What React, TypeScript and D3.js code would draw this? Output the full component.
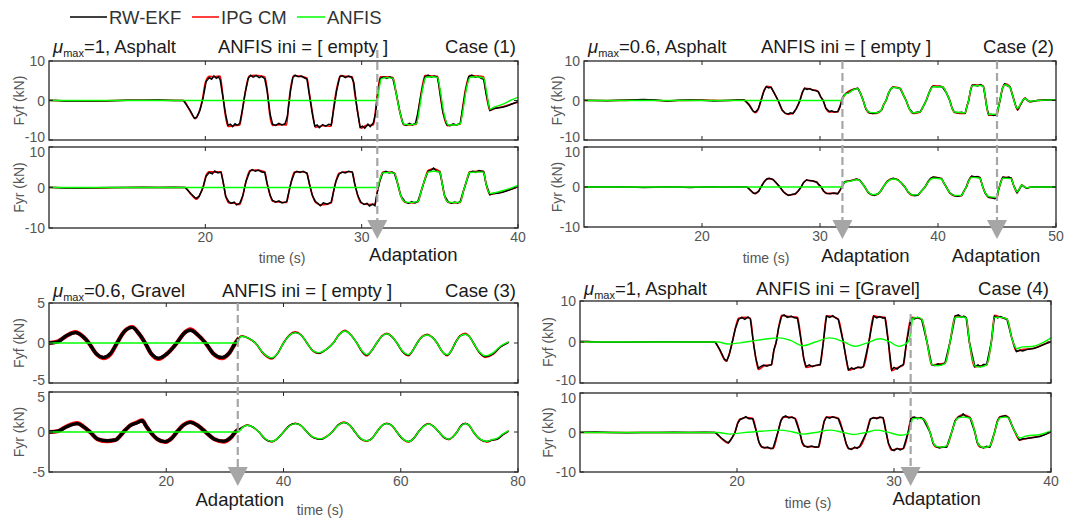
import React from "react";
import * as d3 from "d3";

type P = [number, number];

// ---------------- legend / titles ----------------
const legendNames = ["RW-EKF", "IPG CM", "ANFIS"];
const legendColors = ["#000000", "#ff0000", "#00ff00"];
const muValues = ["1", "0.6", "0.6", "1"];
const surfaces = ["Asphalt", "Asphalt", "Gravel", "Asphalt"];
const iniLabels = ["ANFIS ini = [ empty ]", "ANFIS ini = [ empty ]", "ANFIS ini = [ empty ]", "ANFIS ini = [Gravel]"];
const caseLabels = ["Case (1)", "Case (2)", "Case (3)", "Case (4)"];
const adaptTimes = [[31.0], [31.9, 45.0], [32.2], [31.06]];
const xTickValues = [[20, 30, 40], [20, 30, 40, 50], [20, 40, 60, 80], [20, 30, 40]];
const xDomains: [number, number][] = [[10, 40], [10, 50], [0, 80], [10, 40]];
const yLimits = [10, 10, 5, 10];

// ---------------- Case 1 ----------------
const c1FyfIpg: P[] = [[10,0],[11,-0.05],[13,-0.1],[15,0.05],[17,0.05],[18.6,0],[19.0,-2.5],[19.35,-4.6],[19.6,-3],[19.8,0],[20.0,4.5],[20.25,6.1],[20.6,6.0],[20.95,6.2],[21.1,2],[21.25,-3],[21.45,-6.6],[21.8,-6.4],[22.2,-6.2],[22.35,-3],[22.55,2],[22.8,6.2],[23.2,6.4],[23.8,6.0],[23.95,3],[24.1,-3],[24.3,-6.3],[24.8,-6.1],[25.2,-6.2],[25.3,-2],[25.45,3],[25.65,6.3],[26.1,6.1],[26.5,5.7],[26.65,2],[26.85,-3],[27.05,-6.8],[27.5,-6.4],[28.05,-6.5],[28.2,-2],[28.4,3],[28.65,6.3],[29.0,6.1],[29.4,6.0],[29.55,2],[29.75,-3],[29.95,-7.0],[30.3,-6.3],[30.75,-6.2],[30.9,-2],[31.05,3],[31.2,6.0],[31.6,6.0],[32.0,5.8],[32.2,2],[32.45,-3],[32.7,-6.2],[33.1,-6.2],[33.5,-6.0],[33.65,-2],[33.85,3],[34.05,6.3],[34.5,6.2],[34.85,6.1],[35.0,2],[35.2,-3],[35.5,-6.4],[35.9,-6.2],[36.3,-6.0],[36.45,-2],[36.65,3],[36.9,6.3],[37.3,6.2],[37.8,6.0],[37.95,2],[38.2,-2.5],[38.5,-2.0],[39,-1.6],[39.5,-1.0],[40,-0.4]];
const c1FyfEkf: P[] = [[10,0.05],[10.5,0],[11,-0.1],[12,-0.1],[13,-0.15],[14,-0.05],[15,0.05],[16,0.05],[17,0.1],[18,0],[18.6,0],[19.0,-2.3],[19.3,-4.5],[19.45,-4.2],[19.65,-2.5],[19.85,0.5],[20.05,4.8],[20.25,5.8],[20.4,5.4],[20.55,6.2],[20.7,5.6],[20.85,6.0],[20.95,5.2],[21.1,1.5],[21.3,-3.5],[21.45,-6.3],[21.6,-6.0],[21.75,-6.6],[21.9,-5.9],[22.05,-6.3],[22.2,-5.8],[22.35,-2.8],[22.55,2],[22.75,5.6],[22.9,6.4],[23.05,5.9],[23.25,6.3],[23.45,5.8],[23.6,6.1],[23.8,5.5],[23.95,2.5],[24.15,-3.5],[24.3,-6.0],[24.5,-6.3],[24.7,-5.8],[24.9,-6.2],[25.1,-5.9],[25.25,-4],[25.45,2.5],[25.6,5.8],[25.75,6.4],[25.95,6.0],[26.15,6.2],[26.35,5.7],[26.5,5.4],[26.65,1.5],[26.85,-3.5],[27.0,-6.5],[27.15,-6.2],[27.3,-6.9],[27.5,-6.1],[27.7,-6.5],[27.9,-6.0],[28.05,-6.2],[28.2,-2.5],[28.4,2.5],[28.6,6.0],[28.75,6.3],[28.95,5.8],[29.15,6.2],[29.35,5.9],[29.5,4.5],[29.7,-2],[29.9,-6.8],[30.05,-6.5],[30.2,-7.0],[30.4,-6.0],[30.55,-6.6],[30.75,-5.6],[30.9,-3],[31.05,2.5],[31.2,5.6],[31.4,6.0],[31.6,5.6],[31.8,6.0],[32.0,5.5],[32.2,2],[32.45,-3],[32.65,-5.9],[32.85,-6.3],[33.05,-5.8],[33.25,-6.2],[33.45,-5.7],[33.6,-3],[33.85,2.5],[34.05,6.0],[34.25,6.4],[34.45,5.9],[34.65,6.2],[34.85,5.8],[35.0,2.5],[35.2,-3],[35.45,-6.1],[35.65,-6.4],[35.85,-5.9],[36.05,-6.2],[36.3,-5.8],[36.45,-2.5],[36.65,2.5],[36.85,6.0],[37.05,6.4],[37.25,5.9],[37.45,6.1],[37.65,5.6],[37.8,5.4],[37.95,2],[38.2,-2.5],[38.4,-2.1],[38.7,-1.9],[39.0,-1.7],[39.3,-1.4],[39.6,-0.9],[40,-0.3]];
const c1FyfAnfis: P[] = [[10,0],[31.0,0],[31.1,2.5],[31.25,5.5],[31.6,5.8],[32.0,5.6],[32.2,2],[32.45,-3],[32.7,-6.0],[33.1,-6.1],[33.5,-5.9],[33.7,-2],[33.9,3],[34.1,5.9],[34.5,6.0],[34.85,5.8],[35.05,2],[35.25,-3],[35.55,-6.2],[35.9,-6.2],[36.3,-5.9],[36.5,-2],[36.7,3],[36.95,5.9],[37.3,6.0],[37.8,5.7],[38.0,2],[38.2,-2.2],[38.5,-1.6],[39,-1.0],[39.5,0],[40,0.8]];
const c1FyrIpg: P[] = [[10,0],[11,-0.05],[13,-0.1],[15,0],[17,0],[18.7,0],[19.1,-1.8],[19.45,-2.9],[19.65,-1.8],[19.85,0],[20.05,3],[20.25,3.9],[20.6,3.8],[21.0,3.9],[21.15,1],[21.3,-2],[21.5,-3.8],[21.85,-3.9],[22.2,-4.2],[22.4,-2],[22.6,1.5],[22.85,4.2],[23.3,4.3],[23.8,3.9],[23.95,1],[24.15,-2],[24.3,-3.4],[24.8,-3.6],[25.2,-3.7],[25.35,-1],[25.5,1.5],[25.7,3.8],[26.1,3.9],[26.5,3.6],[26.65,1],[26.85,-2],[27.05,-3.7],[27.4,-4.3],[28.05,-3.8],[28.2,-1],[28.35,1.5],[28.55,3.5],[29.0,3.9],[29.4,3.9],[29.55,1],[29.75,-2],[29.95,-3.8],[30.4,-4.2],[30.85,-4.1],[31.0,-1],[31.15,1.5],[31.35,3.8],[31.7,3.8],[32.1,3.6],[32.3,1],[32.5,-2],[32.8,-3.7],[33.2,-3.8],[33.6,-3.6],[33.8,-1],[34.0,1.5],[34.25,4.2],[34.6,4.6],[35.0,4.0],[35.15,1],[35.3,-2],[35.55,-3.7],[35.9,-3.8],[36.3,-3.7],[36.5,-1],[36.7,1.5],[36.9,3.9],[37.3,4.0],[37.8,4.0],[37.95,1],[38.2,-1.7],[38.6,-1.4],[39,-1.1],[39.5,-0.5],[40,0.2]];
const c1FyrEkf: P[] = [[10,0.05],[11,-0.1],[12,-0.1],[13,-0.05],[14,0],[15,0],[16,0.05],[17,0],[18,0.05],[18.7,0],[19.1,-1.6],[19.4,-2.7],[19.6,-2.2],[19.85,0],[20.05,2.8],[20.25,3.7],[20.45,3.4],[20.6,4.1],[20.8,3.6],[21.0,3.8],[21.15,1.2],[21.3,-2.2],[21.5,-3.5],[21.65,-3.9],[21.85,-3.6],[22.0,-4.3],[22.2,-3.9],[22.4,-2],[22.6,1.5],[22.85,4.0],[23.0,4.4],[23.2,4.0],[23.4,4.3],[23.6,3.8],[23.8,3.7],[23.95,1],[24.15,-2],[24.3,-3.2],[24.5,-3.6],[24.7,-3.3],[24.9,-3.8],[25.2,-3.5],[25.35,-1],[25.5,1.5],[25.7,3.6],[25.85,4.0],[26.05,3.7],[26.25,4.0],[26.5,3.5],[26.65,1],[26.85,-2],[27.05,-3.5],[27.2,-3.9],[27.35,-4.5],[27.55,-3.8],[27.8,-4.1],[28.05,-3.6],[28.2,-1],[28.35,1.5],[28.55,3.3],[28.75,3.8],[28.95,3.6],[29.15,4.0],[29.4,3.8],[29.55,1],[29.75,-2],[29.95,-3.6],[30.15,-4.2],[30.35,-3.9],[30.5,-4.6],[30.7,-4.1],[30.85,-4.5],[31.0,-1.2],[31.15,1.5],[31.35,3.6],[31.55,4.0],[31.75,3.6],[31.95,3.8],[32.1,3.4],[32.3,1],[32.5,-2],[32.8,-3.6],[33.0,-3.9],[33.2,-3.5],[33.4,-3.8],[33.6,-3.4],[33.8,-1],[34.0,1.5],[34.25,4.0],[34.45,4.3],[34.6,4.8],[34.8,4.0],[35.0,3.8],[35.15,1],[35.3,-2],[35.55,-3.6],[35.75,-3.9],[35.95,-3.6],[36.15,-3.8],[36.3,-3.5],[36.5,-1],[36.7,1.5],[36.9,3.7],[37.1,4.0],[37.3,3.7],[37.5,4.2],[37.8,3.9],[37.95,1],[38.2,-1.8],[38.4,-1.5],[38.7,-1.4],[39.0,-1.2],[39.3,-0.8],[39.6,-0.4],[40,0.2]];
const c1FyrAnfis: P[] = [[10,0],[31.0,0],[31.15,1.8],[31.35,3.6],[31.7,3.7],[32.1,3.5],[32.3,1],[32.5,-2],[32.8,-3.6],[33.2,-3.7],[33.6,-3.5],[33.8,-1],[34.0,1.5],[34.25,3.8],[34.6,4.0],[35.0,3.8],[35.15,1],[35.3,-2],[35.55,-3.6],[35.9,-3.7],[36.3,-3.6],[36.5,-1],[36.7,1.5],[36.9,3.7],[37.3,3.8],[37.8,3.8],[37.95,1],[38.2,-1.5],[38.6,-1.2],[39,-0.8],[39.5,-0.2],[40,0.5]];

// ---------------- Case 2 ----------------
const c2FyfIpg: P[] = [[10,0],[12,0],[14,0.1],[15,0.2],[16,0.1],[17,-0.1],[18,0],[20,0.1],[22,0],[23.5,0.1],[24.0,-1],[24.5,-3.1],[24.8,-2],[25.0,0],[25.25,2.5],[25.5,3.6],[25.8,3.4],[26.1,2],[26.45,0],[26.8,-2.5],[27.3,-3.5],[27.7,-3.3],[28.0,-2],[28.3,0],[28.5,2],[28.7,3.1],[29.4,2.7],[29.85,2.3],[30.05,1],[30.27,0],[30.5,-2],[30.8,-2.9],[31.5,-2.9],[31.7,-1.5],[31.85,0],[32.2,1.8],[32.7,2.7],[33.2,3.1],[33.4,2],[33.66,0],[33.9,-2.2],[34.2,-3.2],[34.8,-3.3],[35.2,-2.5],[35.4,-1],[35.6,0],[35.8,1.8],[36.2,3.4],[36.8,3.1],[37.05,1.5],[37.3,0],[37.55,-2],[37.9,-3.3],[38.5,-2.9],[38.75,-1.5],[39.0,0],[39.25,2],[39.6,3.7],[40.4,3.5],[40.7,2],[41.0,0],[41.2,-2],[41.4,-3.0],[42.3,-3.3],[42.45,-1.5],[42.6,0],[42.75,2.5],[42.9,3.9],[43.6,3.9],[43.85,3.6],[44.0,1],[44.15,-2],[44.3,-3.7],[45.0,-3.7],[45.1,-2],[45.25,0],[45.45,3],[45.7,4.2],[46.1,3.5],[46.35,1],[46.6,-1.5],[46.75,-2.4],[47.0,-1],[47.25,0.3],[47.4,0.6],[47.6,0],[47.8,-0.3],[48.4,0],[49,0.1],[50,0.15]];
const c2FyfEkf: P[] = [[10,0.05],[11,0],[12,-0.05],[13,0.05],[14,0.15],[15,0.25],[16,0.1],[17,-0.15],[18,0.05],[19,0.1],[20,0.05],[21,-0.1],[22,0],[23,0.1],[23.6,0.15],[24.0,-1.2],[24.3,-2.6],[24.5,-3.0],[24.75,-2.2],[25.0,0],[25.25,2.4],[25.45,3.5],[25.65,3.2],[25.85,3.4],[26.1,2.0],[26.45,0],[26.8,-2.4],[27.05,-3.2],[27.3,-3.4],[27.5,-3.1],[27.7,-3.3],[28.0,-2],[28.3,0],[28.5,2],[28.7,3.1],[28.9,2.8],[29.1,3.0],[29.4,2.6],[29.65,2.5],[29.85,2.2],[30.05,1],[30.27,0],[30.5,-2],[30.8,-2.8],[31.0,-2.6],[31.2,-2.9],[31.5,-2.8],[31.7,-1.5],[31.85,0],[32.0,1.2],[32.2,1.8],[32.45,2.0],[32.7,2.6],[32.95,2.9],[33.2,3.1],[33.4,2],[33.66,0],[33.9,-2.2],[34.2,-3.1],[34.5,-3.3],[34.8,-3.1],[35.05,-2.8],[35.25,-2.3],[35.4,-1],[35.6,0],[35.8,1.8],[36.0,2.9],[36.2,3.4],[36.5,3.2],[36.8,3.0],[37.05,1.5],[37.3,0],[37.55,-2],[37.9,-3.2],[38.2,-3.0],[38.5,-2.8],[38.75,-1.5],[39.0,0],[39.25,2],[39.45,3.3],[39.6,3.6],[39.9,3.5],[40.2,3.6],[40.4,3.3],[40.7,2],[41.0,0],[41.2,-2],[41.4,-3.0],[41.7,-3.1],[42.0,-3.0],[42.3,-3.2],[42.45,-1.5],[42.6,0],[42.75,2.5],[42.9,3.8],[43.1,3.9],[43.35,3.7],[43.6,4.0],[43.85,3.5],[44.0,1],[44.15,-2],[44.3,-3.6],[44.5,-3.5],[44.7,-3.8],[45.0,-3.5],[45.1,-2],[45.25,0],[45.45,3],[45.65,4.2],[45.85,3.8],[46.1,3.4],[46.35,1],[46.6,-1.5],[46.75,-2.3],[47.0,-1],[47.25,0.3],[47.4,0.6],[47.6,0],[47.8,-0.3],[48.1,-0.2],[48.4,0],[49,0.1],[50,0.15]];
const c2FyfAnfis: P[] = [[10,0],[31.85,0],[32.0,1.0],[32.2,1.7],[32.45,1.9],[32.7,2.5],[33.2,3.0],[33.4,2],[33.66,0],[33.9,-2.1],[34.2,-3.0],[34.8,-3.1],[35.2,-2.4],[35.4,-1],[35.6,0],[35.8,1.8],[36.2,3.3],[36.8,3.0],[37.05,1.5],[37.3,0],[37.55,-2],[37.9,-3.1],[38.5,-2.8],[38.75,-1.5],[39.0,0],[39.25,2],[39.6,3.5],[40.4,3.4],[40.7,2],[41.0,0],[41.2,-2],[41.4,-2.9],[42.3,-3.1],[42.45,-1.5],[42.6,0],[42.75,2.5],[42.9,3.7],[43.6,3.8],[43.85,3.4],[44.0,1],[44.15,-2],[44.3,-3.5],[45.0,-3.4],[45.1,-2],[45.25,0],[45.45,3],[45.7,4.0],[46.1,3.3],[46.35,1],[46.6,-1.5],[46.75,-2.0],[47.0,-0.8],[47.25,0.3],[47.4,0.5],[47.6,0],[47.8,-0.2],[48.4,0],[49,0.1],[50,0.15]];
const c2FyrIpg: P[] = [[10,0],[13,0],[15,-0.05],[17,0.05],[19,-0.05],[21,0],[23,0.05],[23.8,0],[24.1,-0.8],[24.5,-1.7],[24.8,-1.0],[25.0,0],[25.3,1.5],[25.6,2.1],[26.0,1.9],[26.3,1.0],[26.6,0],[26.9,-1.2],[27.3,-2.0],[27.9,-1.8],[28.15,-1],[28.4,0],[28.6,1.1],[28.86,1.7],[29.7,1.3],[29.9,0.6],[30.1,0],[30.3,-1],[30.55,-1.6],[31.5,-1.6],[31.7,-0.8],[31.85,0],[32.1,1.3],[32.5,1.5],[33.1,1.9],[33.4,1.6],[33.6,0.8],[33.8,0],[34.1,-1.4],[34.5,-2.0],[34.9,-1.8],[35.15,-1],[35.36,0],[35.7,1.4],[36.2,2.1],[36.6,1.8],[36.9,1.0],[37.2,0],[37.45,-1.2],[37.8,-2.1],[38.3,-2.0],[38.6,-1],[38.9,0],[39.2,1.5],[39.6,2.4],[40.3,2.1],[40.5,1],[40.7,0],[41.0,-1.5],[41.4,-2.2],[42.0,-2.2],[42.2,-1],[42.4,0],[42.6,1.6],[42.85,2.6],[43.55,2.4],[43.7,1],[43.8,0],[44.0,-1.5],[44.3,-2.6],[45.0,-2.8],[45.1,-1],[45.2,0],[45.35,1.5],[45.5,2.4],[46.2,2.3],[46.4,0.5],[46.7,-1.4],[46.9,-0.5],[47.1,0.5],[47.3,0.1],[47.5,-0.3],[47.9,0],[50,0]];
const c2FyrEkf: P[] = [[10,0],[11,0.05],[12,0],[13,0.05],[14,0],[15,-0.1],[16,-0.05],[17,0.05],[18,0],[19,-0.1],[20,0],[21,0.05],[22,-0.05],[23,0.05],[23.8,0],[24.1,-0.8],[24.35,-1.5],[24.5,-1.6],[24.8,-1.1],[25.0,0],[25.3,1.4],[25.5,2.0],[25.7,2.2],[26.0,1.9],[26.3,1.0],[26.6,0],[26.9,-1.2],[27.15,-1.8],[27.35,-2.1],[27.6,-1.9],[27.9,-1.7],[28.15,-1],[28.4,0],[28.6,1.1],[28.86,1.8],[29.1,1.6],[29.4,1.5],[29.7,1.2],[29.9,0.6],[30.1,0],[30.3,-1],[30.55,-1.6],[30.85,-1.7],[31.15,-1.5],[31.5,-1.7],[31.7,-0.8],[31.85,0],[32.1,1.3],[32.5,1.5],[32.8,1.7],[33.1,2.0],[33.4,1.6],[33.6,0.8],[33.8,0],[34.1,-1.4],[34.35,-1.9],[34.6,-2.1],[34.9,-1.7],[35.15,-1],[35.36,0],[35.7,1.4],[35.95,1.9],[36.2,2.2],[36.6,1.8],[36.9,1.0],[37.2,0],[37.45,-1.2],[37.8,-2.0],[38.05,-2.2],[38.3,-2.0],[38.6,-1],[38.9,0],[39.2,1.5],[39.4,2.2],[39.6,2.5],[39.95,2.3],[40.3,2.1],[40.5,1],[40.7,0],[41.0,-1.5],[41.4,-2.2],[41.7,-2.3],[42.0,-2.1],[42.2,-1],[42.4,0],[42.6,1.6],[42.85,2.7],[43.1,2.5],[43.35,2.6],[43.55,2.3],[43.7,1],[43.8,0],[44.0,-1.5],[44.3,-2.6],[44.6,-2.7],[44.8,-2.9],[45.0,-2.7],[45.1,-1],[45.2,0],[45.35,1.5],[45.5,2.5],[45.8,2.3],[46.0,2.5],[46.2,2.2],[46.4,0.5],[46.7,-1.4],[46.9,-0.5],[47.1,0.5],[47.3,0.1],[47.5,-0.3],[47.9,0],[48.5,0.05],[50,0]];
const c2FyrAnfis: P[] = [[10,0],[31.85,0],[32.1,1.2],[32.5,1.4],[33.1,1.8],[33.4,1.5],[33.6,0.8],[33.8,0],[34.1,-1.3],[34.5,-1.9],[34.9,-1.7],[35.15,-1],[35.36,0],[35.7,1.3],[36.2,2.0],[36.6,1.7],[36.9,1.0],[37.2,0],[37.45,-1.1],[37.8,-2.0],[38.3,-1.9],[38.6,-1],[38.9,0],[39.2,1.4],[39.6,2.2],[40.3,2.0],[40.5,1],[40.7,0],[41.0,-1.4],[41.4,-2.1],[42.0,-2.1],[42.2,-1],[42.4,0],[42.6,1.5],[42.85,2.4],[43.55,2.2],[43.7,1],[43.8,0],[44.0,-1.4],[44.3,-2.4],[45.0,-2.6],[45.1,-1],[45.2,0],[45.35,1.4],[45.5,2.2],[46.2,2.1],[46.4,0.5],[46.7,-1.2],[46.9,-0.4],[47.1,0.5],[47.3,0.1],[47.5,-0.2],[47.9,0],[50,0]];

// ---------------- Case 3 ----------------
const c3FyfIpg: P[] = [[0,0],[1.5,0.2],[3,0.9],[4.5,1.35],[5.8,0.8],[6.8,0],[8,-1.3],[9.3,-1.9],[10.5,-1.4],[11.6,0],[12.8,1.4],[14.2,2.0],[15.3,1.2],[16.4,0],[17.5,-1.4],[18.7,-2.0],[20.2,-1.3],[21.8,0],[23,1.2],[24.1,1.7],[25.4,1.0],[26.7,0],[28,-1.3],[29.5,-1.9],[30.8,-1.2],[31.8,0],[32.9,0.9],[34,0.6],[35.2,0],[36.6,-1.4],[38,-2.0],[39,-1.3],[40,0],[41,1.0],[42,1.4],[43,1.0],[44,0],[45,-1.0],[46,-1.3],[47.3,-0.8],[48.5,0],[49.5,1.1],[50.5,1.6],[51.5,1.0],[52.5,0],[53.4,-1.1],[54.2,-1.6],[55,-1.0],[55.9,0],[56.8,0.9],[57.6,1.2],[58.5,0.8],[59.35,0],[60.3,-1.1],[61.3,-1.6],[62,-1.0],[62.8,0],[63.6,0.8],[64.5,1.1],[65.4,0.7],[66.2,0],[67,-1.0],[67.9,-1.6],[68.6,-1.0],[69.3,0],[70.1,0.9],[71,1.2],[71.7,0.8],[72.4,0],[73.4,-1.2],[74.4,-1.8],[75.8,-1.4],[77,-0.5],[78.4,0.1]];
const c3FyfEkf: P[] = [[0,0],[1.5,0.15],[3,0.95],[4.5,1.3],[5.8,0.8],[6.8,0],[8,-1.3],[9.3,-1.8],[10.5,-1.3],[11.6,0],[12.8,1.4],[14.2,1.95],[15.3,1.2],[16.4,0],[17.5,-1.4],[18.7,-1.9],[20.2,-1.3],[21.8,0],[23,1.2],[24.1,1.6],[25.4,1.0],[26.7,0],[28,-1.3],[29.5,-1.8],[30.8,-1.2],[31.8,0],[32.9,0.85],[34,0.6],[35.2,0],[36.6,-1.3],[38,-1.9],[39,-1.3],[40,0],[41,0.95],[42,1.3],[43,1.0],[44,0],[45,-0.95],[46,-1.25],[47.3,-0.8],[48.5,0],[49.5,1.05],[50.5,1.5],[51.5,1.0],[52.5,0],[53.4,-1.05],[54.2,-1.5],[55,-1.0],[55.9,0],[56.8,0.85],[57.6,1.15],[58.5,0.8],[59.35,0],[60.3,-1.05],[61.3,-1.5],[62,-1.0],[62.8,0],[63.6,0.75],[64.5,1.0],[65.4,0.7],[66.2,0],[67,-1.0],[67.9,-1.5],[68.6,-1.0],[69.3,0],[70.1,0.85],[71,1.1],[71.7,0.8],[72.4,0],[73.4,-1.15],[74.4,-1.7],[75.8,-1.3],[77,-0.5],[78.4,0.1]];
const c3FyfAnfis: P[] = [[0,0],[32.2,0],[32.5,0.6],[32.9,0.85],[34,0.6],[35.2,0],[36.6,-1.3],[38,-1.85],[39,-1.3],[40,0],[41,0.95],[42,1.3],[43,1.0],[44,0],[45,-0.95],[46,-1.2],[47.3,-0.8],[48.5,0],[49.5,1.05],[50.5,1.5],[51.5,1.0],[52.5,0],[53.4,-1.0],[54.2,-1.45],[55,-1.0],[55.9,0],[56.8,0.85],[57.6,1.15],[58.5,0.8],[59.35,0],[60.3,-1.0],[61.3,-1.45],[62,-1.0],[62.8,0],[63.6,0.75],[64.5,1.0],[65.4,0.7],[66.2,0],[67,-1.0],[67.9,-1.45],[68.6,-1.0],[69.3,0],[70.1,0.85],[71,1.1],[71.7,0.8],[72.4,0],[73.4,-1.1],[74.4,-1.6],[75.8,-1.2],[77,-0.4],[78.4,0.15]];
const c3FyrIpg: P[] = [[0,0],[1.5,0.1],[3,0.7],[4.8,1.1],[6,0.6],[7,0],[8.3,-0.9],[9.9,-1.15],[11.3,-1.0],[12.7,0],[13.8,0.8],[15,1.2],[15.9,1.45],[16.6,0.7],[17.3,0],[18.5,-0.9],[19.8,-1.25],[20.9,-0.8],[21.8,0],[23,0.9],[24.1,1.25],[25.4,0.8],[26.7,0],[28.2,-0.9],[29.8,-1.2],[31,-0.7],[31.8,0],[33,0.6],[33.8,0.9],[34.8,0.6],[35.8,0],[36.9,-0.9],[38,-1.25],[39,-0.8],[40,0],[41,0.8],[42,1.1],[43,0.8],[44,0],[45.1,-0.7],[46.3,-0.9],[47.3,-0.6],[48.3,0],[49.3,0.85],[50.3,1.25],[51.3,0.85],[52.2,0],[53.2,-0.85],[54.2,-1.15],[55.1,-0.8],[55.9,0],[56.8,0.8],[57.6,1.1],[58.5,0.8],[59.35,0],[60.3,-0.85],[61.3,-1.25],[62.2,-0.8],[63,0],[63.9,0.75],[64.75,1.05],[65.6,0.7],[66.5,0],[67.4,-0.7],[68.2,-0.95],[68.9,-0.6],[69.6,0],[70.3,0.8],[71,1.1],[71.7,0.8],[72.4,0],[73.5,-0.9],[74.7,-1.25],[75.6,-1.0],[76.4,-0.9],[77.5,-0.3],[78.4,0.12]];
const c3FyrEkf: P[] = [[0,0],[1.5,0.1],[3,0.65],[4.8,1.05],[6,0.6],[7,0],[8.3,-0.9],[9.9,-1.1],[11.3,-1.0],[12.7,0],[13.8,0.8],[15,1.15],[15.9,1.4],[16.6,0.7],[17.3,0],[18.5,-0.9],[19.8,-1.2],[20.9,-0.8],[21.8,0],[23,0.9],[24.1,1.2],[25.4,0.8],[26.7,0],[28.2,-0.9],[29.8,-1.15],[31,-0.7],[31.8,0],[33,0.6],[33.8,0.85],[34.8,0.6],[35.8,0],[36.9,-0.9],[38,-1.2],[39,-0.8],[40,0],[41,0.8],[42,1.05],[43,0.8],[44,0],[45.1,-0.7],[46.3,-0.9],[47.3,-0.6],[48.3,0],[49.3,0.85],[50.3,1.2],[51.3,0.85],[52.2,0],[53.2,-0.85],[54.2,-1.1],[55.1,-0.8],[55.9,0],[56.8,0.8],[57.6,1.05],[58.5,0.8],[59.35,0],[60.3,-0.85],[61.3,-1.2],[62.2,-0.8],[63,0],[63.9,0.75],[64.75,1.0],[65.6,0.7],[66.5,0],[67.4,-0.7],[68.2,-0.9],[68.9,-0.6],[69.6,0],[70.3,0.8],[71,1.05],[71.7,0.8],[72.4,0],[73.5,-0.9],[74.7,-1.2],[75.6,-1.0],[76.4,-0.9],[77.5,-0.3],[78.4,0.1]];
const c3FyrAnfis: P[] = [[0,0],[32.3,0],[33,0.55],[33.8,0.85],[34.8,0.6],[35.8,0],[36.9,-0.85],[38,-1.2],[39,-0.8],[40,0],[41,0.75],[42,1.05],[43,0.8],[44,0],[45.1,-0.65],[46.3,-0.85],[47.3,-0.6],[48.3,0],[49.3,0.8],[50.3,1.2],[51.3,0.85],[52.2,0],[53.2,-0.8],[54.2,-1.1],[55.1,-0.8],[55.9,0],[56.8,0.8],[57.6,1.05],[58.5,0.8],[59.35,0],[60.3,-0.8],[61.3,-1.2],[62.2,-0.8],[63,0],[63.9,0.7],[64.75,1.0],[65.6,0.7],[66.5,0],[67.4,-0.65],[68.2,-0.9],[68.9,-0.6],[69.6,0],[70.3,0.75],[71,1.05],[71.7,0.8],[72.4,0],[73.5,-0.85],[74.7,-1.15],[75.6,-0.95],[76.4,-0.8],[77.5,-0.2],[78.4,0.15]];

// ---------------- Case 4 ----------------
const c4FyfIpg: P[] = [[10,0.1],[11,0.05],[12,-0.05],[14,0],[16,0],[18,0],[18.6,0],[18.9,-2],[19.3,-4.7],[19.5,-3],[19.7,0],[19.9,3.5],[20.1,5.8],[20.5,6.0],[20.85,5.8],[21.04,0],[21.2,-4],[21.36,-6.7],[21.8,-5.7],[22.2,-5.6],[22.35,-2],[22.5,0],[22.65,3.5],[22.85,6.5],[23.3,6.2],[23.85,6.0],[24.1,0],[24.25,-4],[24.4,-6.2],[24.9,-5.8],[25.3,-5.6],[25.5,0],[25.7,6.4],[26.1,6.2],[26.45,5.6],[26.77,0],[26.95,-4],[27.1,-6.9],[27.6,-6.3],[28.05,-6.1],[28.4,0],[28.7,6.4],[29.1,6.1],[29.43,6.0],[29.64,0],[29.85,-7.0],[30.2,-6.3],[30.6,-5.6],[30.8,0],[31.1,6.0],[31.4,5.9],[31.76,5.6],[32.1,0],[32.4,-5.6],[32.8,-5.4],[33.25,-5.2],[33.57,0],[33.9,6.4],[34.3,6.2],[34.6,6.0],[34.8,0],[35.15,-6.1],[35.5,-5.8],[35.9,-5.6],[36.2,0],[36.4,6.5],[36.8,6.0],[37.2,5.6],[37.5,1],[37.8,-2.3],[38.1,-1.9],[38.9,-1.5],[39.5,-0.6],[40,0.1]];
const c4FyfEkf: P[] = [[10,0.15],[10.5,0.1],[11,0],[12,-0.05],[13,-0.05],[14,0],[15,0.05],[16,0.05],[17,0],[18,0],[18.6,0],[18.9,-1.8],[19.2,-4.2],[19.35,-4.6],[19.5,-3.2],[19.7,0],[19.9,3.3],[20.1,5.5],[20.3,6.0],[20.5,5.5],[20.7,6.1],[20.85,5.6],[21.04,0],[21.2,-4],[21.36,-6.4],[21.5,-6.0],[21.7,-5.6],[21.9,-5.9],[22.2,-5.5],[22.35,-2],[22.5,0],[22.65,3.5],[22.85,6.3],[23.0,6.6],[23.2,6.0],[23.45,6.3],[23.65,5.9],[23.85,5.8],[24.1,0],[24.25,-4],[24.4,-6.0],[24.6,-5.6],[24.8,-6.0],[25.0,-5.7],[25.3,-5.5],[25.5,0],[25.7,6.3],[25.9,6.0],[26.1,6.4],[26.3,5.8],[26.45,5.5],[26.77,0],[26.95,-4],[27.1,-6.8],[27.3,-6.3],[27.45,-6.6],[27.7,-6.1],[27.9,-6.3],[28.05,-6.0],[28.4,0],[28.7,6.3],[28.9,5.9],[29.1,6.2],[29.3,5.8],[29.43,5.9],[29.64,0],[29.85,-6.8],[30.0,-6.2],[30.2,-6.6],[30.4,-5.9],[30.6,-5.5],[30.8,0],[31.1,5.9],[31.3,5.6],[31.5,6.0],[31.76,5.5],[32.1,0],[32.4,-5.5],[32.6,-5.8],[32.8,-5.3],[33.0,-5.6],[33.25,-5.1],[33.57,0],[33.9,6.3],[34.1,6.6],[34.3,6.0],[34.45,6.3],[34.6,5.9],[34.8,0],[35.15,-6.0],[35.35,-5.6],[35.5,-6.0],[35.7,-5.5],[35.9,-5.5],[36.2,0],[36.4,6.3],[36.6,5.9],[36.8,6.2],[37.0,5.8],[37.2,5.5],[37.5,1],[37.8,-2.3],[38.0,-2.0],[38.2,-2.2],[38.5,-1.8],[38.9,-1.6],[39.2,-1.2],[39.5,-0.7],[39.8,-0.2],[40,0.0]];
const c4FyfAnfis: P[] = [[10,0.1],[11,0],[13,0],[15,0],[17,0],[18.8,0],[19.4,-0.5],[20.2,-0.2],[21.2,0.4],[22.0,0.8],[22.7,1.0],[23.4,0.4],[24.2,-0.9],[25.0,0],[25.9,1.0],[26.7,0.2],[27.5,-1.05],[28.3,-0.2],[29.1,0.8],[29.7,0.1],[30.3,-1.05],[30.9,0],[31.05,2],[31.2,5.8],[31.5,6.0],[31.76,5.6],[32.1,0],[32.4,-5.4],[32.8,-5.8],[33.25,-5.3],[33.57,0],[33.9,6.0],[34.3,6.1],[34.6,5.8],[34.8,0],[35.15,-5.8],[35.5,-6.1],[35.9,-5.6],[36.2,0],[36.4,6.0],[36.8,6.0],[37.2,5.6],[37.5,1],[37.8,-1.6],[38.2,-1.2],[38.8,-1.1],[39.4,-0.3],[40,1.0]];
const c4FyrIpg: P[] = [[10,0],[12,0],[14,0],[16,0],[18,0],[18.6,0],[19.0,-1.5],[19.45,-2.7],[19.65,-1.5],[19.87,0],[20.05,2.5],[20.2,3.4],[20.6,3.8],[21.0,3.6],[21.25,0],[21.4,-2.5],[21.57,-3.7],[22.0,-3.9],[22.3,-4.1],[22.6,0],[22.8,3],[22.95,3.9],[23.3,3.9],[23.7,3.6],[24.0,0],[24.15,-2.5],[24.3,-3.5],[24.8,-3.6],[25.2,-3.7],[25.4,0],[25.55,2.8],[25.7,3.9],[26.1,3.9],[26.45,3.6],[26.77,0],[26.95,-2.8],[27.1,-4.1],[27.5,-3.9],[27.8,-3.7],[28.25,0],[28.5,3.5],[28.9,3.7],[29.3,3.8],[29.5,0],[29.65,-2.8],[29.85,-4.5],[30.2,-4.1],[30.6,-4.1],[30.9,0],[31.1,3.8],[31.5,3.7],[31.87,3.5],[32.3,0],[32.5,-2.8],[32.7,-3.7],[33.0,-3.8],[33.35,-3.6],[33.67,0],[33.9,3],[34.1,4.0],[34.4,4.5],[34.84,3.8],[35.16,0],[35.3,-2.5],[35.5,-3.7],[35.8,-3.8],[36.1,-3.6],[36.4,0],[36.6,3],[36.75,4.0],[37.1,4.2],[37.3,3.8],[37.6,1],[38.0,-1.9],[38.45,-1.5],[39.3,-0.9],[40,0.2]];
const c4FyrEkf: P[] = [[10,0.05],[11,0.1],[12,0],[13,-0.05],[14,0],[15,0],[16,0.05],[17,0],[18,0.05],[18.6,0],[19.0,-1.4],[19.3,-2.3],[19.45,-2.6],[19.65,-1.6],[19.87,0],[20.05,2.4],[20.2,3.3],[20.4,3.6],[20.55,4.0],[20.75,3.5],[21.0,3.5],[21.25,0],[21.4,-2.5],[21.57,-3.6],[21.75,-3.9],[21.95,-3.7],[22.15,-4.1],[22.3,-3.9],[22.6,0],[22.8,3],[22.95,3.9],[23.1,4.2],[23.3,3.7],[23.5,3.9],[23.7,3.5],[24.0,0],[24.15,-2.5],[24.3,-3.4],[24.5,-3.7],[24.75,-3.4],[25.0,-3.7],[25.2,-3.6],[25.4,0],[25.55,2.8],[25.7,3.9],[25.9,3.6],[26.1,4.0],[26.3,3.7],[26.45,3.5],[26.77,0],[26.95,-2.8],[27.1,-4.0],[27.3,-4.3],[27.5,-3.7],[27.65,-4.0],[27.8,-3.6],[28.25,0],[28.5,3.4],[28.7,3.8],[28.9,3.5],[29.1,3.9],[29.3,3.7],[29.5,0],[29.65,-2.8],[29.85,-4.3],[30.0,-4.6],[30.2,-4.0],[30.4,-4.4],[30.6,-4.0],[30.9,0],[31.1,3.7],[31.3,3.9],[31.5,3.5],[31.7,3.8],[31.87,3.4],[32.3,0],[32.5,-2.8],[32.7,-3.6],[32.9,-3.9],[33.1,-3.6],[33.35,-3.7],[33.67,0],[33.9,3],[34.1,3.9],[34.3,4.2],[34.4,4.7],[34.6,4.0],[34.84,3.7],[35.16,0],[35.3,-2.5],[35.5,-3.6],[35.7,-3.9],[35.9,-3.5],[36.1,-3.7],[36.4,0],[36.6,3],[36.75,3.9],[36.95,4.1],[37.1,4.3],[37.3,3.7],[37.6,1],[38.0,-1.9],[38.2,-1.6],[38.45,-1.5],[38.8,-1.3],[39.3,-1.0],[39.7,-0.4],[40,0.2]];
const c4FyrAnfis: P[] = [[10,0],[12,0],[15,0],[18,0],[18.8,0],[19.5,-0.4],[20.3,-0.1],[21.5,0.3],[22.7,0.6],[23.5,0.2],[24.2,-0.4],[25.0,0],[25.9,0.6],[26.7,0.1],[27.4,-0.5],[28.2,0],[28.9,0.6],[29.6,0.1],[30.4,-0.7],[30.9,-0.3],[31.05,1.5],[31.2,3.5],[31.5,3.6],[31.87,3.4],[32.3,0],[32.5,-2.6],[32.7,-3.5],[33.0,-3.7],[33.35,-3.4],[33.67,0],[33.9,2.8],[34.1,3.7],[34.4,3.9],[34.84,3.6],[35.16,0],[35.3,-2.3],[35.5,-3.5],[35.8,-3.8],[36.1,-3.4],[36.4,0],[36.6,2.8],[36.75,3.7],[37.1,3.9],[37.3,3.6],[37.6,1],[38.0,-1.4],[38.45,-0.9],[39.3,-0.5],[40,0.4]];

const seriesData = [
  { fyf: [c1FyfIpg, c1FyfEkf, c1FyfAnfis], fyr: [c1FyrIpg, c1FyrEkf, c1FyrAnfis] },
  { fyf: [c2FyfIpg, c2FyfEkf, c2FyfAnfis], fyr: [c2FyrIpg, c2FyrEkf, c2FyrAnfis] },
  { fyf: [c3FyfIpg, c3FyfEkf, c3FyfAnfis], fyr: [c3FyrIpg, c3FyrEkf, c3FyrAnfis] },
  { fyf: [c4FyfIpg, c4FyfEkf, c4FyfAnfis], fyr: [c4FyrIpg, c4FyrEkf, c4FyrAnfis] },
];

// ---------------- layout (pixels) ----------------
const layout = [
  { x0: 49, x1: 518, rows: [[61, 140], [147, 228]], titleY: 53, iniX: 303, ylabX: 19, dashTop: [50], arrowY: 220, labDx: [36], labY: 261, timeX: 282, timeY: 263, ekfLinear: true, thickBefore: 0 },
  { x0: 584, x1: 1056, rows: [[61, 140], [147, 227]], titleY: 53, iniX: 846, ylabX: 557, dashTop: [61, 61], arrowY: 220, labDx: [23, -1], labY: 262, timeX: 766, timeY: 263, ekfLinear: true, thickBefore: 0 },
  { x0: 49, x1: 518, rows: [[303, 383], [392, 472]], titleY: 297, iniX: 307, ylabX: 19, dashTop: [303], arrowY: 467, labDx: [2], labY: 506, timeX: 320, timeY: 515, ekfLinear: false, thickBefore: 32.2 },
  { x0: 580, x1: 1051, rows: [[301, 383], [393, 472]], titleY: 295, iniX: 838, ylabX: 548, dashTop: [314], arrowY: 467, labDx: [26], labY: 505, timeX: 808, timeY: 508, ekfLinear: true, thickBefore: 0 },
];

const FONT = '"Liberation Sans", Arial, Helvetica, sans-serif';
const AX = "#262626";
const TICKC = "#555555";

function Panel({ idx }: { idx: number }) {
  const L = layout[idx];
  const xs = d3.scaleLinear().domain(xDomains[idx]).range([L.x0, L.x1]);
  const lim = yLimits[idx];
  const yTicks = [-lim, 0, lim];
  const rowsData = [seriesData[idx].fyf, seriesData[idx].fyr];
  const rowNames = ["Fyf (kN)", "Fyr (kN)"];
  return (
    <g>
      {L.rows.map(([top, bottom], r) => {
        const ys = d3.scaleLinear().domain([-lim, lim]).range([bottom, top]);
        const smooth = d3.line<P>().x(d => xs(d[0])).y(d => ys(d[1])).curve(d3.curveMonotoneX);
        const lin = d3.line<P>().x(d => xs(d[0])).y(d => ys(d[1]));
        const [ipg, ekf, anf] = rowsData[r];
        const cid = `clip-${idx}-${r}`;
        const cidT = `clipT-${idx}-${r}`;
        const ekfPath = (L.ekfLinear ? lin : smooth)(ekf) || "";
        const labelY = (v: number) => {
          if (r === 0 && v === -lim) return ys(v) + 2;
          if (r === 1 && v === lim) return ys(v) + 10;
          return ys(v) + 5;
        };
        return (
          <g key={r}>
            <defs>
              <clipPath id={cid}><rect x={L.x0} y={top} width={L.x1 - L.x0} height={bottom - top} /></clipPath>
              {L.thickBefore > 0 && (
                <clipPath id={cidT}><rect x={L.x0} y={top} width={xs(L.thickBefore) - L.x0} height={bottom - top} /></clipPath>
              )}
            </defs>
            <rect x={L.x0} y={top} width={L.x1 - L.x0} height={bottom - top} fill="#fff" />
            <g clipPath={`url(#${cid})`} fill="none">
              <path d={smooth(ipg) || ""} stroke="#ff0000" strokeWidth={1.6} />
              <path d={ekfPath} stroke="#000" strokeWidth={1.5} />
              {L.thickBefore > 0 && (
                <g clipPath={`url(#${cidT})`}>
                  <path d={smooth(ipg) || ""} stroke="#ff0000" strokeWidth={4.2} />
                  <path d={ekfPath} stroke="#000" strokeWidth={3.4} />
                </g>
              )}
              <path d={smooth(anf) || ""} stroke="#00ff00" strokeWidth={1.4} />
            </g>
            <rect x={L.x0} y={top} width={L.x1 - L.x0} height={bottom - top} fill="none" stroke={AX} strokeWidth={1.3} />
            {xTickValues[idx].map(t => (
              <g key={"xt" + t}>
                <line x1={xs(t)} x2={xs(t)} y1={bottom} y2={bottom - 4} stroke={AX} strokeWidth={1} />
                <line x1={xs(t)} x2={xs(t)} y1={top} y2={top + 4} stroke={AX} strokeWidth={1} />
                {r === 1 && (
                  <text x={xs(t)} y={bottom + 14} textAnchor="middle" fontSize={14} fill={TICKC} fontFamily={FONT}>{t}</text>
                )}
              </g>
            ))}
            {yTicks.map(v => (
              <g key={"yt" + v}>
                <line x1={L.x0} x2={L.x0 + 4} y1={ys(v)} y2={ys(v)} stroke={AX} strokeWidth={1} />
                <line x1={L.x1} x2={L.x1 - 4} y1={ys(v)} y2={ys(v)} stroke={AX} strokeWidth={1} />
                <text x={L.x0 - 4} y={labelY(v)} textAnchor="end" fontSize={14} fill={TICKC} fontFamily={FONT}>{v}</text>
              </g>
            ))}
            <text transform={`translate(${L.ylabX},${(top + bottom) / 2}) rotate(-90)`} textAnchor="middle" dy={5} fontSize={14} fill={TICKC} fontFamily={FONT}>{rowNames[r]}</text>
          </g>
        );
      })}
      <text x={L.x0 + 4} y={L.titleY} fontSize={18.5} fill="#1a1a1a" fontFamily={FONT}>
        <tspan fontStyle="italic">μ</tspan>
        <tspan fontSize={11} dy={4}>max</tspan>
        <tspan dy={-4}>{`=${muValues[idx]}, ${surfaces[idx]}`}</tspan>
      </text>
      <text x={L.iniX} y={L.titleY} textAnchor="middle" fontSize={18.5} fill="#1a1a1a" fontFamily={FONT}>{iniLabels[idx]}</text>
      <text x={L.x1 - 2} y={L.titleY} textAnchor="end" fontSize={18.5} fill="#1a1a1a" fontFamily={FONT}>{caseLabels[idx]}</text>
      <text x={L.timeX} y={L.timeY} textAnchor="middle" fontSize={14} fill={TICKC} fontFamily={FONT}>time (s)</text>
      {adaptTimes[idx].map((t, k) => {
        const ax = xs(t);
        return (
          <g key={"ad" + k}>
            <line x1={ax} x2={ax} y1={L.dashTop[k]} y2={L.arrowY} stroke="#a6a6a6" strokeWidth={2.2} strokeDasharray="8,4" />
            <path d={`M${ax - 10},${L.arrowY} L${ax + 10},${L.arrowY} L${ax},${L.arrowY + 19} Z`} fill="#a6a6a6" />
            <text x={ax + L.labDx[k]} y={L.labY} textAnchor="middle" fontSize={18.5} fill="#1a1a1a" fontFamily={FONT}>Adaptation</text>
          </g>
        );
      })}
    </g>
  );
}

function Legend() {
  const lineX = [70, 192, 297];
  const lineW = [37, 27, 28];
  return (
    <g>
      {legendNames.map((n, i) => (
        <g key={n}>
          <line x1={lineX[i]} x2={lineX[i] + lineW[i]} y1={17} y2={17} stroke={legendColors[i]} strokeWidth={1.5} />
          <text x={lineX[i] + lineW[i] + 2} y={23.5} fontSize={18.5} fill="#333" fontFamily={FONT}>{n}</text>
        </g>
      ))}
    </g>
  );
}

export default function App() {
  return (
    <svg width={1078} height={519} style={{ position: "absolute", left: 0, top: 0, background: "#fff" }}>
      <rect width={1078} height={519} fill="#fff" />
      <Legend />
      {[0, 1, 2, 3].map(i => <Panel key={i} idx={i} />)}
    </svg>
  );
}
